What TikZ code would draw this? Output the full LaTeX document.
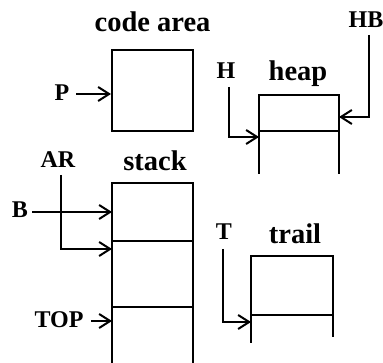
\documentclass[tikz,border=0pt]{standalone}
\usepackage{fontspec}
\setmainfont{Liberation Serif}
\usetikzlibrary{arrows.meta}
\tikzset{
  big/.style={font=\bfseries\fontsize{28.5}{28.5}\selectfont, inner sep=0pt, anchor=base},
  sm/.style={font=\bfseries\fontsize{24}{24}\selectfont, inner sep=0pt, anchor=base},
  arr/.style={-{Straight Barb[length=11pt,width=14pt,line width=2pt]}},
  wall/.style={line width=2pt},
}
\begin{document}
\begin{tikzpicture}[x=1pt,y=-1pt,line width=2pt]
\useasboundingbox (0,0) rectangle (383,363);
% labels
\node[big] (lcode) at (152.5,32) {code area};
\node[big] (lstack) at (155,171) {stack};
\node[big] (lheap) at (298,81) {heap};
\node[big] (ltrail) at (295,244) {trail};
\node[sm] (P) at (62,101) {P};
\node[sm] (AR) at (58,168) {AR};
\node[sm] (B) at (20,218) {B};
\node[sm] (TOP) at (59,328) {TOP};
\node[sm] (H) at (226,79) {H};
\node[sm] (HB) at (366,28) {HB};
\node[sm] (T) at (224,240) {T};
% code area box
\node[draw, minimum width=81pt, minimum height=81pt, inner sep=0pt] (code) at (152.5,90.5) {};
% stack
\coordinate (stl) at (112,183); \coordinate (str) at (193,183);
\coordinate (sbl) at (112,366); \coordinate (sbr) at (193,366);
\coordinate (s1l) at (112,241); \coordinate (s1r) at (193,241);
\coordinate (s2l) at (112,307); \coordinate (s2r) at (193,307);
\draw[wall] (sbl) -- (stl) -- (str) -- (sbr);
\draw (s1l) -- (s1r);
\draw (s2l) -- (s2r);
% heap
\coordinate (htl) at (259,95); \coordinate (htr) at (339,95);
\coordinate (hml) at (259,131); \coordinate (hmr) at (339,131);
\coordinate (hbl) at (259,174); \coordinate (hbr) at (339,174);
\draw (hbl) -- (htl) -- (htr) -- (hbr);
\draw (hml) -- (hmr);
% trail
\coordinate (ttl) at (251,256); \coordinate (ttr) at (333,256);
\coordinate (tml) at (251,315); \coordinate (tmr) at (333,315);
\coordinate (tbl) at (251,343); \coordinate (tbr) at (333,337);
\draw (tbl) -- (ttl) -- (ttr) -- (tbr);
\draw (tml) -- (tmr);
% pointer arrows
\coordinate (Ps) at (76,94);
\draw[arr] (Ps) -- (Ps -| code.west);
\coordinate (Bs) at (32,212);
\draw[arr] (Bs) -- (Bs -| stl);
\coordinate (ARs) at (61,175);
\coordinate (ARt) at (112,249);
\draw[arr] (ARs) |- (ARt);
\coordinate (TOPs) at (91,321);
\draw[arr] (TOPs) -- (TOPs -| stl);
\coordinate (Hs) at (229,87);
\coordinate (Ht) at (259,137);
\draw[arr] (Hs) |- (Ht);
\coordinate (HBs) at (369,35);
\coordinate (HBt) at (339,117);
\draw[arr] (HBs) |- (HBt);
\coordinate (Ts) at (223,249);
\coordinate (Tt) at (251,322);
\draw[arr] (Ts) |- (Tt);
\end{tikzpicture}
\end{document}
